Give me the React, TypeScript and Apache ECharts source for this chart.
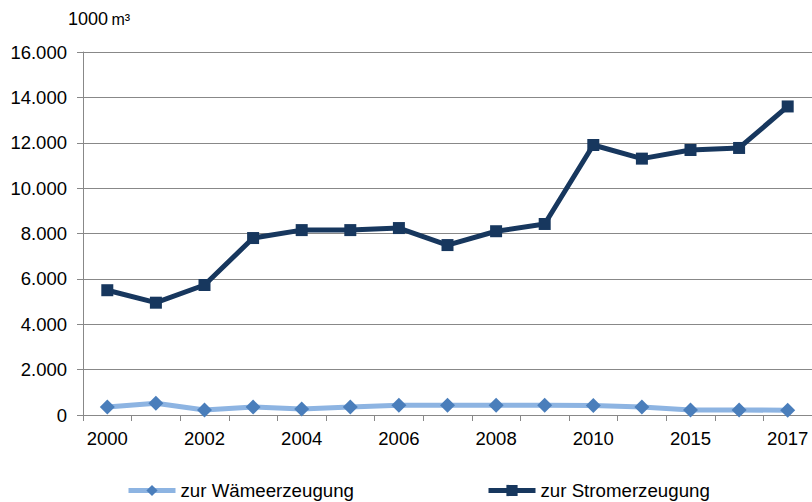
import React, { useEffect, useRef } from "react";
import * as echarts from "echarts";

const categories = ["2000", "2001", "2002", "2003", "2004", "2005", "2006", "2007", "2008", "2009", "2010", "2014", "2015", "2016", "2017"];
const waerme = [350, 520, 220, 350, 260, 350, 430, 430, 430, 430, 420, 350, 220, 220, 210];
const strom = [5500, 4950, 5730, 7800, 8150, 8150, 8240, 7490, 8100, 8420, 11900, 11300, 11680, 11770, 13600];
const yTicks = [0, 2000, 4000, 6000, 8000, 10000, 12000, 14000, 16000];
const seriesNames = ["zur Wämeerzeugung", "zur Stromerzeugung"];

const fmt = (v: number) => (v === 0 ? "0" : (v / 1000).toFixed(3));

export default function App() {
  const ref = useRef<HTMLDivElement>(null);
  useEffect(() => {
    const chart = echarts.init(ref.current!, null, { renderer: "svg" });
    const font = "Liberation Sans, Arial, sans-serif";
    chart.setOption({
      animation: false,
      textStyle: { fontFamily: font },
      grid: { left: 83, right: 0, top: 52, bottom: 87 },
      graphic: [
        {
          type: "text",
          left: 68,
          top: 10,
          style: {
            text: "{a|1000} {b|m³}",
            rich: {
              a: { fontSize: 18, fontFamily: font, fill: "#000" },
              b: { fontSize: 16, fontFamily: font, fill: "#000" },
            },
          },
        },
      ],
      legend: [
        {
          data: [seriesNames[0]],
          left: 121,
          top: 476,
          itemWidth: 47,
          itemHeight: 14,
          lineStyle: { width: 5 },
          textStyle: { fontSize: 18.7, color: "#000", fontFamily: font },
        },
        {
          data: [seriesNames[1]],
          left: 481,
          top: 476,
          itemWidth: 47,
          itemHeight: 14,
          lineStyle: { width: 5 },
          textStyle: { fontSize: 18.7, color: "#000", fontFamily: font },
        },
      ],
      xAxis: {
        type: "category",
        data: categories,
        boundaryGap: true,
        axisLine: { lineStyle: { color: "#888", width: 1 } },
        axisTick: { show: true, length: 6, lineStyle: { color: "#888" }, interval: 0 },
        axisLabel: {
          interval: 1,
          fontSize: 18.5,
          color: "#000",
          margin: 14,
          fontFamily: font,
        },
      },
      yAxis: {
        type: "value",
        min: 0,
        max: 16000,
        interval: 2000,
        axisLine: { show: true, lineStyle: { color: "#888", width: 1 } },
        axisTick: { show: true, length: 6, lineStyle: { color: "#888" } },
        splitLine: { lineStyle: { color: "#888", width: 1 } },
        axisLabel: {
          fontSize: 18.5,
          color: "#000",
          margin: 16,
          fontFamily: font,
          formatter: (v: number) => (yTicks.includes(v) ? fmt(v) : ""),
        },
      },
      series: [
        {
          name: seriesNames[0],
          type: "line",
          data: waerme,
          symbol: "diamond",
          symbolSize: 15,
          lineStyle: { color: "#8db4e2", width: 5 },
          itemStyle: { color: "#4a7ebb" },
          color: "#8db4e2",
        },
        {
          name: seriesNames[1],
          type: "line",
          data: strom,
          symbol: "rect",
          symbolSize: 12,
          lineStyle: { color: "#17375e", width: 5 },
          itemStyle: { color: "#17375e" },
          color: "#17375e",
        },
      ],
    });
    return () => chart.dispose();
  }, []);
  return <div ref={ref} style={{ width: 812, height: 502, position: "absolute", left: 0, top: 0 }} />;
}
